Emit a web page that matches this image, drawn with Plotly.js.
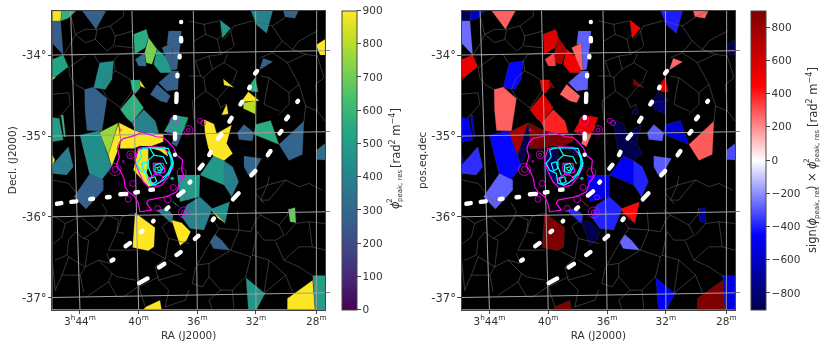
<!DOCTYPE html>
<html><head><meta charset="utf-8">
<script src="https://cdn.plot.ly/plotly-3.0.1.min.js"></script>
<style>html,body{margin:0;padding:0;background:#fff}.js-line{stroke-linecap:round;stroke-linejoin:round}#chart{filter:blur(0.35px)}</style>
</head><body><div id="chart" style="width:830px;height:349px"></div>
<script>
// Map coordinates: x/y are image-plane positions of the sky map (WCS projection)
const mapXRange=[157,975], mapYRange=[928,33];
const raTickPos=[240,416,592,768,949];
const raTickText=['3<sup>h</sup>44<sup>m</sup>','40<sup>m</sup>','36<sup>m</sup>','32<sup>m</sup>','28<sup>m</sup>'];
const decTickPos=[165,408,650,892];
const decTickRightPos=[152,395,635,878];
const decTickText=['-34°','-35°','-36°','-37°'];
const raGrid=[[[212,33],[240,928]],[[396,33],[416,928]],[[580,33],[592,928]],[[767,33],[768,928]],[[950,33],[949,928]]];
const decGrid=[[[157,165],[975,152]],[[157,408],[975,395]],[[157,650],[975,635]],[[157,892],[975,878]]];

// Voronoi cells with a detected signal: vertices and signed phi^2 peak value (rad^2 m^-4)
const cellVerts=[
[[157,33],[185,33],[182,63],[157,63]],
[[185,33],[228,33],[205,55],[182,63]],
[[247,33],[318,33],[288,88]],
[[157,63],[182,63],[190,165],[157,130]],
[[157,178],[190,165],[205,200],[165,232],[157,232]],
[[157,232],[168,232],[157,240]],
[[299,188],[341,183],[336,238],[316,268],[281,263]],
[[254,268],[281,261],[321,295],[306,393],[261,391],[255,330]],
[[361,328],[401,281],[431,323],[396,368],[381,355]],
[[391,240],[418,240],[421,263],[406,281],[396,268]],
[[418,238],[436,265],[421,258]],
[[431,328],[466,363],[476,398],[455,402],[406,393],[396,368]],
[[298,397],[355,368],[325,465]],
[[357,368],[405,392],[425,398],[380,412],[362,420]],
[[355,372],[362,420],[350,460],[335,500],[325,465]],
[[362,420],[425,398],[490,402],[490,425],[455,438],[420,438],[400,445],[360,445]],
[[415,448],[445,445],[445,480],[440,520],[455,545],[470,555],[445,560],[400,510]],
[[445,442],[495,440],[505,470],[480,452]],
[[240,405],[298,392],[335,500],[305,540],[268,520]],
[[157,352],[178,355],[190,420],[157,425]],
[[183,345],[190,345],[197,410],[192,410]],
[[157,520],[200,525],[220,500],[205,440],[157,495]],
[[157,465],[165,480],[157,497]],
[[270,520],[310,540],[310,570],[258,627],[222,590]],
[[600,525],[598,590],[540,605],[532,525]],
[[600,525],[640,468],[672,482],[672,555]],
[[672,482],[698,500],[716,545],[695,590],[672,555]],
[[599,590],[637,625],[612,690],[570,685],[545,650],[560,615]],
[[637,625],[689,605],[675,670],[632,630]],
[[633,628],[675,668],[655,655]],
[[470,630],[500,625],[520,645],[515,670]],
[[515,600],[540,622],[525,612]],
[[515,660],[545,668],[572,695],[560,720],[540,737]],
[[645,703],[665,720],[690,750],[640,745],[630,725]],
[[405,638],[465,682],[462,740],[445,752],[398,742]],
[[660,60],[692,85],[667,115]],
[[753,33],[818,33],[800,100],[770,75]],
[[850,33],[895,33],[885,55],[855,50]],
[[948,135],[975,118],[975,165],[960,165]],
[[790,175],[818,185],[778,210]],
[[765,233],[775,275],[755,275],[745,262]],
[[670,237],[702,262],[672,255]],
[[745,275],[778,302],[730,305],[720,310]],
[[730,308],[768,302],[765,342],[730,325]],
[[680,312],[685,342],[665,345]],
[[712,398],[732,373],[762,398],[757,423],[717,418]],
[[767,373],[812,361],[837,433],[762,403]],
[[912,363],[907,463],[867,481],[837,433]],
[[950,450],[975,430],[975,480],[948,478]],
[[732,468],[785,475],[765,510],[745,525],[732,500]],
[[865,628],[885,622],[888,668],[870,665]],
[[738,833],[795,880],[770,928],[745,928]],
[[938,840],[945,928],[862,928],[862,895]],
[[938,826],[975,826],[975,928],[945,928]],
[[438,920],[480,900],[485,928],[430,928]],
[[401,103],[439,88],[446,113],[436,143],[404,163]],
[[446,113],[471,148],[456,193],[439,188],[434,158]],
[[406,178],[434,158],[439,198],[416,198]],
[[471,148],[501,173],[516,218],[481,218],[461,193]],
[[506,93],[544,93],[541,133],[501,133]],
[[486,143],[516,128],[520,210],[514,211]],
[[516,128],[541,133],[531,208],[520,210]],
[[476,248],[516,213],[536,213],[534,268],[501,273],[486,258]],
[[451,283],[471,253],[511,288],[501,308],[481,303]],
[[492,395],[520,345],[565,352],[545,405],[525,400]],
[[515,430],[525,400],[545,405],[530,440]],
[[612,358],[642,372],[650,400],[695,375],[680,430],[698,460],[672,482],[640,468],[625,445],[615,400]]
];
const cellValues=[
-880,-580,280,-260,520,880,-440,280,570,560,880,390,760,900,-900,900,-880,-880,-440,-500,-600,-370,-880,-280,
-500,-480,-390,-390,440,900,-380,480,-900,-270,900,470,-400,280,-900,270,570,900,-900,-800,-900,-290,-560,290,
-320,-290,-690,-470,900,-510,900,560,720,340,490,-280,280,-280,-280,280,520,270,-900];

// Thin edges of the remaining (no-signal) tessellation cells
const meshEdges=[
[[214,53],[226,103],[211,133],[190,165]],[[226,103],[256,88],[291,88],[331,78],[371,48],[371,33]],
[[291,88],[286,118],[321,153],[341,138],[346,108],[331,78]],[[286,118],[256,128],[226,103]],
[[346,108],[400,93]],[[346,138],[400,143]],[[211,165],[281,163],[296,188]],[[206,203],[256,168]],
[[206,203],[211,233],[226,253],[253,268]],[[341,183],[356,163],[400,158]],
[[341,183],[346,213],[366,223],[391,238]],[[346,213],[321,233],[306,268],[321,293],[361,323]],
[[401,268],[361,323]],[[157,283],[206,278],[211,313],[176,353]],
[[567,63],[612,73],[657,63]],[[612,73],[617,103],[652,118],[667,103]],[[692,93],[702,78],[757,63]],
[[617,103],[582,123]],[[652,118],[662,163],[697,143]],[[702,138],[692,93],[672,118]],
[[587,183],[627,168],[662,163]],[[627,168],[637,208],[612,233],[602,228],[587,183]],
[[637,208],[672,188],[682,163]],[[672,188],[712,213],[702,238]],
[[612,233],[617,273],[652,298],[677,268],[702,243]],[[652,298],[662,323],[677,313]],
[[617,273],[577,303],[582,358]],[[567,228],[602,228]],
[[817,78],[847,123],[877,148],[897,123],[952,93]],[[847,123],[817,158],[782,173]],
[[762,63],[817,78],[862,48],[892,33]],[[817,158],[862,188],[897,253],[917,318],[952,333],[975,363]],
[[862,188],[917,163],[952,168]],[[897,253],[867,278],[867,313],[837,343]],
[[782,228],[807,233],[867,278]],[[807,233],[792,313],[837,333]],[[917,318],[912,363]],
[[952,168],[972,233],[947,253],[952,333]],[[877,148],[917,163]],
[[157,645],[196,670],[186,710],[161,730]],[[196,670],[241,650],[291,690],[251,715],[226,695],[206,720],[201,765],[166,780]],
[[291,690],[321,645],[356,660],[351,695],[326,750]],[[251,715],[266,720],[256,800],[206,770]],
[[256,800],[241,825],[251,875]],[[256,800],[296,780],[331,790],[321,760]],
[[296,780],[336,820],[351,830],[406,840]],[[336,820],[326,845],[266,885]],
[[326,845],[351,890],[371,890],[406,865]],[[206,770],[186,825],[166,870]],[[241,825],[186,825]],
[[157,780],[166,870]],[[161,540],[206,550],[256,610]],[[306,610],[321,635],[291,690]],
[[371,700],[351,695],[366,650],[401,640]],[[406,750],[326,750]],[[456,755],[496,775]],
[[496,775],[506,715],[486,680],[516,655]],[[506,780],[556,810]],[[406,865],[476,830]],
[[416,860],[436,920]],[[496,920],[556,900],[567,870]],[[496,775],[466,800],[476,840],[506,870],[496,920]],
[[476,840],[546,820]],[[506,715],[567,730]],
[[712,635],[717,690],[657,685],[647,670]],[[717,690],[752,695],[767,660],[782,645],[762,630]],
[[767,570],[802,555],[807,530]],[[802,555],[857,540],[897,560],[927,550],[967,570]],
[[767,580],[792,610]],[[802,555],[782,600],[807,600],[827,575],[857,540]],
[[782,645],[837,675],[852,705],[827,720],[792,720],[772,695]],[[837,675],[862,645],[867,625]],
[[887,670],[857,705]],[[887,670],[927,665],[937,740],[897,740],[852,780],[827,725]],
[[927,665],[975,670]],[[852,780],[897,800]],[[937,740],[975,750]],[[757,765],[772,695]],
[[757,765],[807,780],[857,825],[792,880]],[[717,690],[692,750],[752,770]],
[[692,750],[627,790],[592,795],[617,750],[657,685]],[[627,790],[627,830],[662,870],[697,870],[737,830]],
[[752,770],[737,830]],[[697,870],[702,928]],[[627,830],[607,860],[577,850],[587,800]],
[[662,870],[627,900],[637,928]],[[857,825],[877,875]],[[897,800],[942,830]],[[807,780],[792,880]]
];

// Radio-contour outlines around the central object
const magentaContours=[
[[358,428],[370,415],[395,410],[425,398],[445,402],[470,410],[490,412],[505,425],[522,445],[530,465],[548,480],[545,510],[553,530],[540,545],[530,575],[500,590],[470,595],[445,600],[440,610],[455,630],[420,635],[415,610],[405,590],[385,575],[375,560],[372,535],[365,520],[350,495],[358,470],[352,445],[358,428]],
[[415,445],[450,440],[490,442],[515,470],[520,500],[505,530],[485,555],[450,565],[430,545],[412,505],[405,480],[415,445]],
[[460,490],[490,490],[495,515],[470,525],[460,510],[460,490]],
[[445,535],[470,520],[490,530],[480,548],[460,556],[445,535]]
];
const cyanContours=[
[[432,445],[452,443],[505,445],[515,470],[520,490],[510,515],[490,540],[465,555],[445,550],[440,520],[420,510],[410,490],[425,470],[420,450],[432,445]],
[[505,455],[513,475],[514,495],[503,520],[490,532]],[[508,460],[518,482],[516,500],[505,525]],
[[450,445],[462,465],[445,480],[445,500],[455,525]],[[462,465],[490,470],[500,490]],
[[465,495],[480,490],[490,505],[480,518],[465,515],[465,495]],
[[470,503],[480,500],[484,508],[476,512],[470,503]],
[[425,490],[440,485],[445,505],[432,512],[425,490]],
[[450,535],[465,530],[470,545],[455,552],[450,535]]
];
const magentaSrcX=[362,523,565,565,512,392,392,370,398,385,345,345,545,520,562,503,473,552,552,600,610];
const magentaSrcY=[390,362,390,390,397,464,464,484,550,597,508,508,517,562,592,597,625,637,637,362,369];
const magentaSrcD=[2,9,9,4,6,8,3,2,6,6,12,6,9,6,5,7,6,11,5,5,5];
const cyanSrcX=[515,518]; const cyanSrcY=[535,535]; const cyanSrcD=[2,2];

// Observed strip tracks, as dash end points
const trackDashes=[
[[543,60],[544,72]],[[543,108],[544,130]],[[540,162],[538,178]],[[533,218],[532,235]],[[530,275],[529,312]],[[526,345],[525,360]],[[525,395],[525,422]],[[525,458],[525,470]],
[[165,612],[190,608]],[[208,606],[235,603]],[[265,598],[285,595]],[[315,592],[335,590]],[[355,583],[385,581]],[[400,578],[420,575]],[[445,570],[465,568]],
[[412,852],[448,832]],[[472,805],[498,788]],[[525,768],[547,752]],[[580,720],[600,703]],[[635,665],[645,650]],[[695,602],[720,575]],[[750,530],[770,508]],[[800,470],[815,448]],[[835,405],[848,388]],[[855,362],[868,345]],[[888,310],[898,298]],
[[330,785],[345,775]],[[372,742],[395,725]],[[418,700],[432,688]],[[455,668],[465,658]],[[495,630],[510,618]],[[530,590],[555,570]],[[565,552],[575,540]],[[595,510],[612,490]],[[625,470],[635,450]],[[650,420],[668,398]],[[685,370],[698,348]],[[718,318],[730,300]],[[745,270],[752,255]],[[762,225],[775,208]]
];

const viridisStops=['#440154','#482475','#414487','#355f8d','#2a788e','#21918c','#22a884','#44bf70','#7ad151','#bddf26','#fde725'];
const seismicStops=['#00004c','#0000ff','#ffffff','#ff0000','#7f0000'];
const valueMax=900;

function hex(c){return [1,3,5].map(i=>parseInt(c.substr(i,2),16));}
function ramp(stops,t){t=Math.max(0,Math.min(1,t));const p=t*(stops.length-1),i=Math.min(Math.floor(p),stops.length-2),f=p-i,a=hex(stops[i]),b=hex(stops[i+1]);
 return 'rgb('+a.map((v,k)=>Math.round(v+(b[k]-v)*f)).join(',')+')';}
function scale(stops){return stops.map((c,i)=>[i/(stops.length-1),c]);}
const centX=cellVerts.map(v=>v.reduce((s,p)=>s+p[0],0)/v.length), centY=cellVerts.map(v=>v.reduce((s,p)=>s+p[1],0)/v.length);
// dash ends were read including the rounded caps; pull them in by the cap radius
function inset(l,r){const dx=l[1][0]-l[0][0],dy=l[1][1]-l[0][1],n=Math.hypot(dx,dy),k=Math.min(r/n,0.49);
 return [[l[0][0]+dx*k,l[0][1]+dy*k],[l[1][0]-dx*k,l[1][1]-dy*k]];}

const font={family:'DejaVu Sans, sans-serif',size:10.5,color:'#333'};
const traces=[];
function panel(xa,ya,vals,stops,cmin,cbar,colorOf){
 traces.push({x:centX,y:centY,xaxis:xa,yaxis:ya,type:'scatter',mode:'markers',hoverinfo:'skip',showlegend:false,
  marker:{size:1,color:vals,cmin:cmin,cmax:valueMax,colorscale:scale(stops),showscale:true,colorbar:cbar}});
 cellVerts.forEach((v,i)=>{traces.push({x:v.map(p=>p[0]).concat(v[0][0]),y:v.map(p=>p[1]).concat(v[0][1]),xaxis:xa,yaxis:ya,type:'scatter',mode:'lines',fill:'toself',fillcolor:colorOf(vals[i]),line:{width:0.4,color:'rgba(90,90,90,0.5)'},hoverinfo:'skip',showlegend:false});});
 const add=(lines,color,width)=>lines.forEach(l=>traces.push({x:l.map(p=>p[0]),y:l.map(p=>p[1]),xaxis:xa,yaxis:ya,type:'scatter',mode:'lines',line:{color:color,width:width,simplify:false},hoverinfo:'skip',showlegend:false}));
 add(meshEdges,'#5a5a5a',0.6);
 add(raGrid.concat(decGrid),'#a0a0a0',1);
 add(magentaContours,'#ff00ff',1.2);
 traces.push({x:magentaSrcX,y:magentaSrcY,xaxis:xa,yaxis:ya,type:'scatter',mode:'markers',hoverinfo:'skip',showlegend:false,marker:{symbol:'circle-open',color:'#ff00ff',size:magentaSrcD,line:{width:1,color:'#ff00ff'}}});
 add(cyanContours,'#00ffff',1.2);
 traces.push({x:cyanSrcX,y:cyanSrcY,xaxis:xa,yaxis:ya,type:'scatter',mode:'markers',hoverinfo:'skip',showlegend:false,marker:{symbol:'circle-open',color:'#00ffff',size:cyanSrcD,line:{width:1,color:'#00ffff'}}});
 add(trackDashes.map(l=>inset(l,6)),'#ffffff',4.4);
}
const H=349,W=830,axTop=11,axBot=309.5;
const cbCommon={thickness:15,thicknessmode:'pixels',len:axBot-axTop,lenmode:'pixels',y:1-axBot/H,yanchor:'bottom',xanchor:'left',xpad:0,ypad:0,outlinewidth:1,outlinecolor:'#444',ticks:'outside',ticklen:3.5,tickwidth:1,tickcolor:'#444',tickfont:font};
panel('x','y',cellValues.map(Math.abs),viridisStops,0,Object.assign({},cbCommon,{x:342/W,tick0:0,dtick:100}),v=>ramp(viridisStops,v/valueMax));
panel('x2','y2',cellValues,seismicStops,-valueMax,Object.assign({},cbCommon,{x:751.3/W,tick0:0,dtick:200}),v=>ramp(seismicStops,(v+valueMax)/(2*valueMax)));

// Colour-bar titles, laid out piece by piece so superscript and subscript stack
function rot(text,px,py,size,italic){return {text:italic?'<i>'+text+'</i>':text,x:px/W,y:1-py/H,xref:'paper',yref:'paper',xanchor:'center',yanchor:'middle',showarrow:false,textangle:-90,borderpad:0,font:{family:font.family,size:size,color:font.color}};}
const bracket='[rad<sup>2</sup> m<sup>−4</sup>]';
const annotations=[
 rot('ϕ',395,205,11.5,true),rot('2',389,201,7.5),rot('peak, res',400,186,7),rot(bracket,395,138,11.5),
 rot('sign(',812,239,11.5),rot('ϕ',812,221.5,11.5,true),rot('peak, res',817,203,7),rot(')',812,188,11.5),rot('×',812,177,11.5),
 rot('ϕ',812,165,11.5,true),rot('2',806,161,7.5),rot('peak, res',817,146,7),rot(bracket,812,97,11.5)
];

const tf11={family:font.family,size:11.5,color:font.color};
const xBase={range:mapXRange,tickmode:'array',tickvals:raTickPos,ticktext:raTickText,ticks:'outside',ticklen:3.5,tickcolor:'#444',ticklabelstandoff:-2,showgrid:false,zeroline:false,showline:true,linecolor:'#444',linewidth:1,mirror:true,tickfont:font,title:{text:'RA (J2000)',font:font,standoff:6}};
const yBase={range:mapYRange,tickmode:'array',tickvals:decTickPos,ticktext:decTickText,ticks:'outside',ticklen:3.5,tickcolor:'#444',ticklabelstandoff:-1,showgrid:false,zeroline:false,showline:true,linecolor:'#444',linewidth:1,mirror:true,tickfont:tf11,domain:[1-axBot/H,1-axTop/H]};
const rBase={range:mapYRange,tickmode:'array',tickvals:decTickRightPos,showticklabels:false,ticks:'outside',ticklen:3.5,tickcolor:'#888',showgrid:false,zeroline:false,showline:false,side:'right',domain:[1-axBot/H,1-axTop/H]};
const layout={width:W,height:H,margin:{l:0,r:0,t:0,b:0},paper_bgcolor:'#fff',plot_bgcolor:'#000',font:font,showlegend:false,annotations:annotations,
 xaxis:Object.assign({},xBase,{domain:[52.3/W,325/W],anchor:'y'}),
 yaxis:Object.assign({},yBase,{anchor:'x',title:{text:'Decl. (J2000)',font:font,standoff:3}}),
 xaxis2:Object.assign({},xBase,{domain:[461.7/W,735/W],anchor:'y2'}),
 yaxis2:Object.assign({},yBase,{anchor:'x2',title:{text:'pos.eq.dec',font:font,standoff:2}}),
 yaxis3:Object.assign({},rBase,{overlaying:'y',anchor:'x'}),
 yaxis4:Object.assign({},rBase,{overlaying:'y2',anchor:'x2'})
};
// invisible anchors so the right-hand tick axes are drawn
traces.push({x:[null],y:[null],xaxis:'x',yaxis:'y3',type:'scatter',mode:'markers',hoverinfo:'skip',showlegend:false});
traces.push({x:[null],y:[null],xaxis:'x2',yaxis:'y4',type:'scatter',mode:'markers',hoverinfo:'skip',showlegend:false});
Plotly.newPlot('chart',traces,layout,{displayModeBar:false,staticPlot:true});
</script></body></html>
